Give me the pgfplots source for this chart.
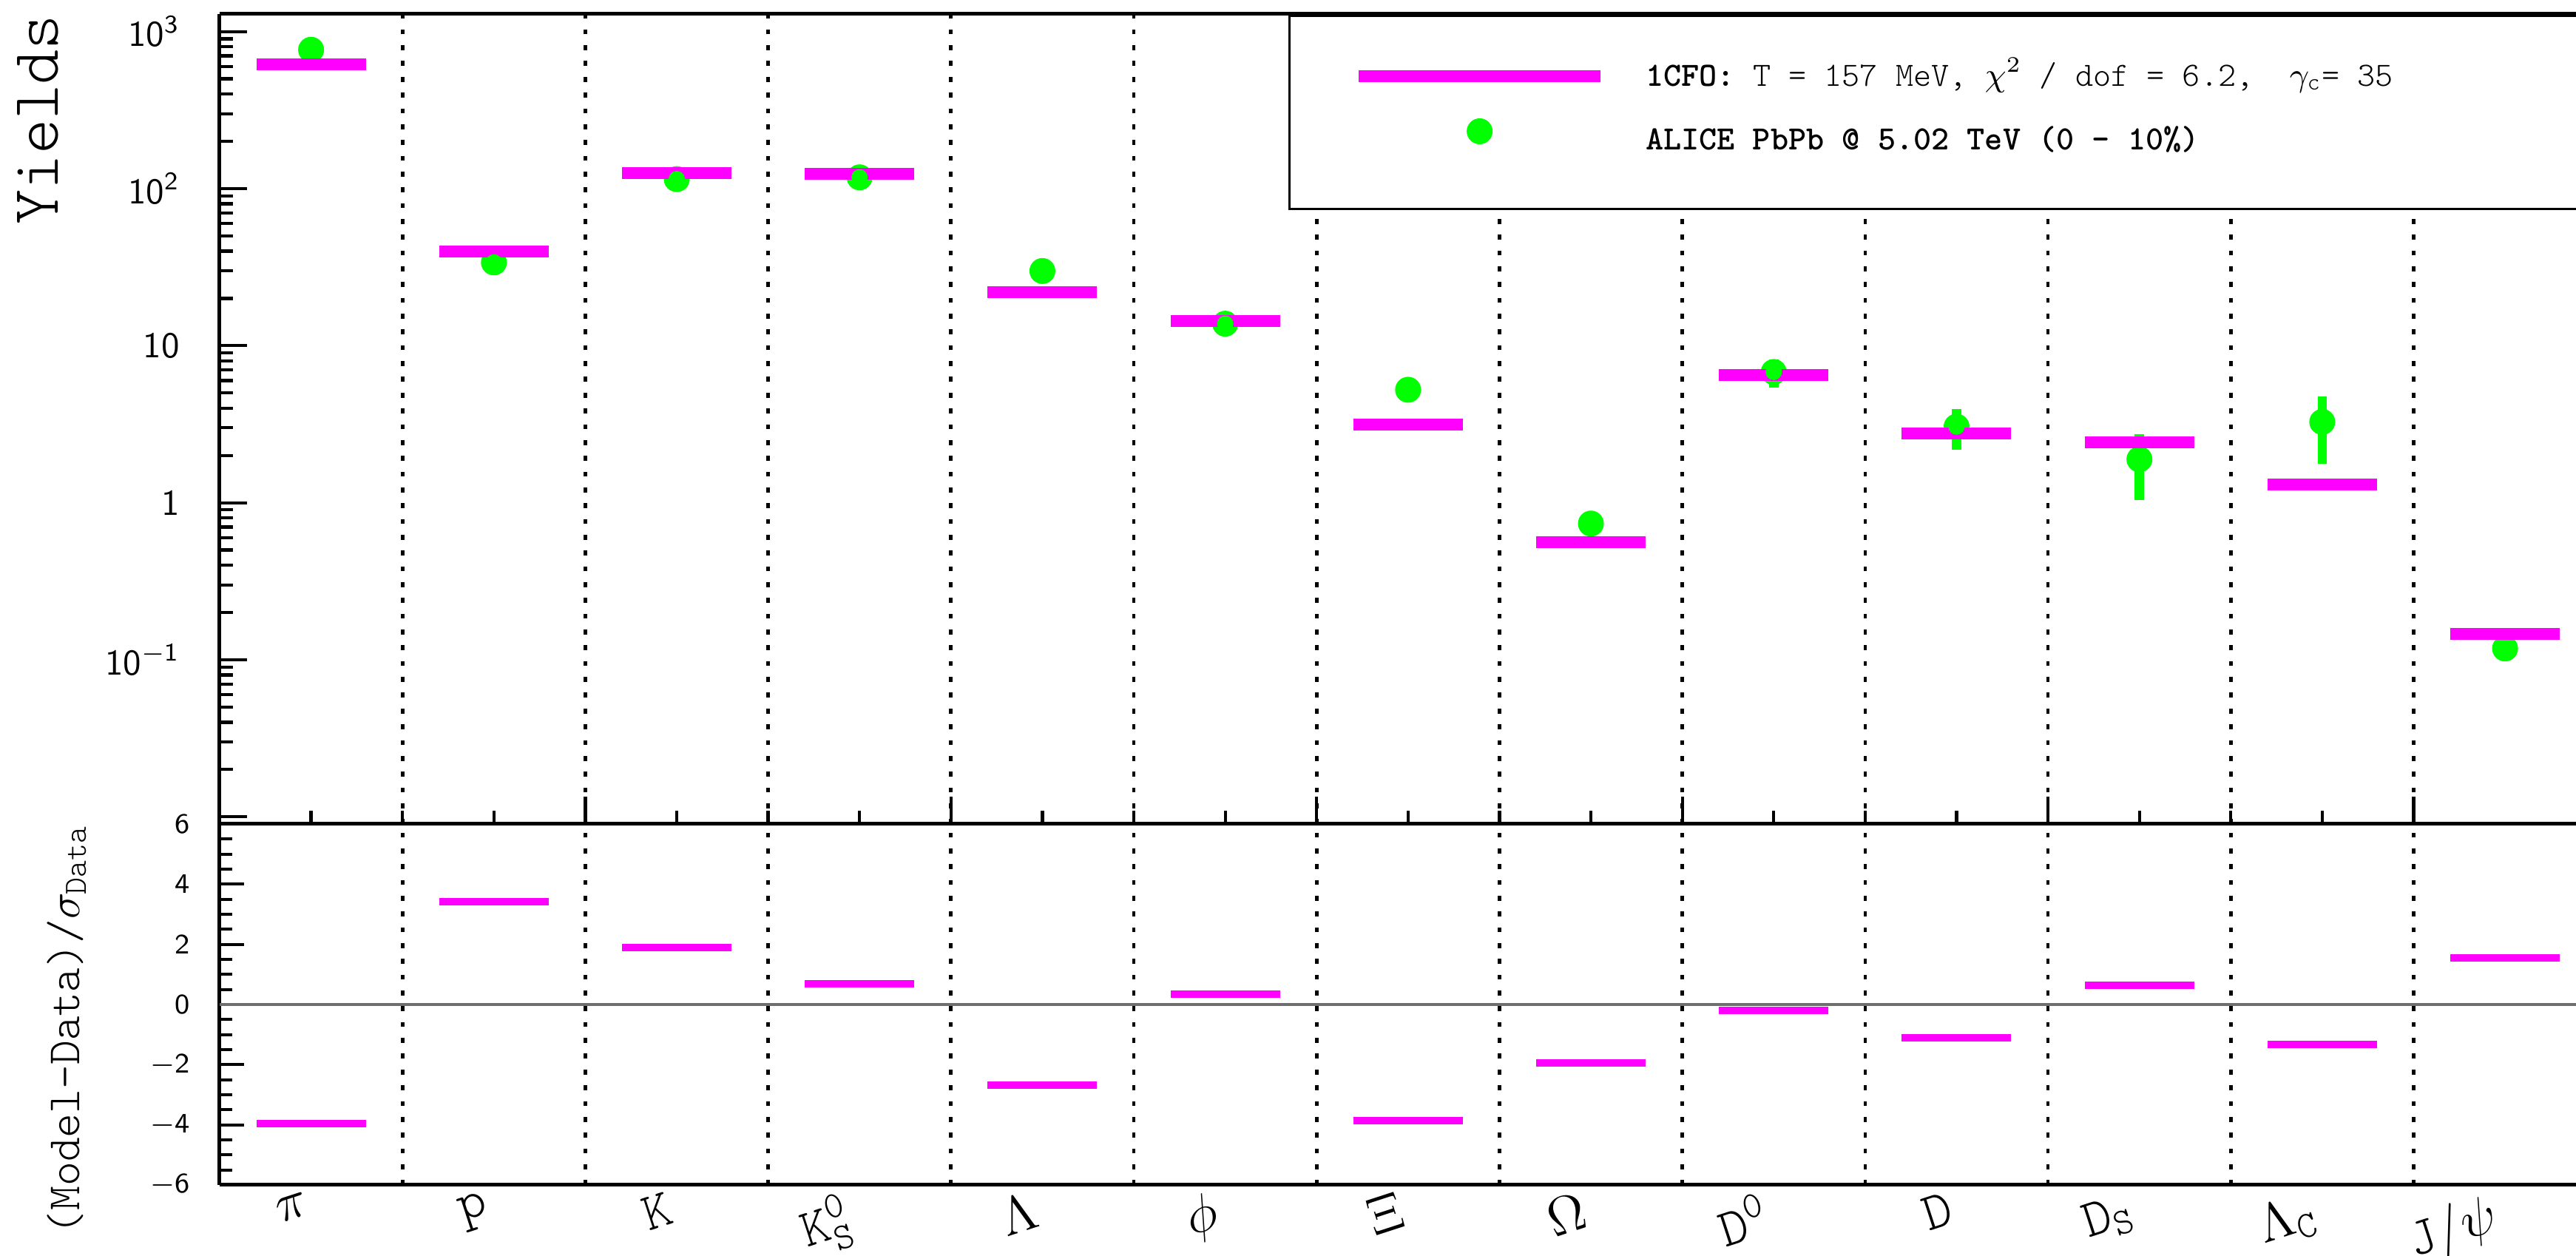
\documentclass[border=0pt]{standalone}
\usepackage{fontspec}
\setmonofont{lmmonolt10-regular.otf}[BoldFont=lmmonolt10-bold.otf]
\usepackage{pgfplots}
\usepackage{pgfplotstable}
\pgfplotsset{compat=1.18}

\definecolor{modelmag}{RGB}{255,0,255}
\definecolor{datagreen}{RGB}{0,255,0}
\definecolor{zerogray}{RGB}{110,110,110}

% tilted particle labels
\newcommand{\pl}[1]{\rotatebox{18}{#1}}

% x = bin centre, model = 1CFO yield, data = ALICE yield, err = data uncertainty,
% resid = (Model-Data)/sigma
\pgfplotstableread{
x     model  data   err   resid
0.5   617    766    0     -3.96
1.5   39.8   33.9   0      3.43
2.5   126    115    0      1.89
3.5   124    118    0      0.68
4.5   21.8   29.9   0     -2.67
5.5   14.3   13.8   0      0.35
6.5   3.15   5.24   0     -3.87
7.5   0.560  0.737  0     -1.95
8.5   6.53   6.80   1.40  -0.19
9.5   2.77   3.05   0.88  -1.11
10.5  2.43   1.89   0.85   0.63
11.5  1.30   3.27   1.50  -1.32
12.5  0.146  0.118  0      1.54
}\yieldtable

\tikzset{divider/.style={black, line width=0.94pt, dash pattern=on 1.34pt off 2.93pt}}

\begin{document}
\begin{tikzpicture}

% ---------------- lower panel: residuals ----------------
\begin{axis}[
  name=lower, at={(0pt,0pt)}, anchor=south west,
  width=637.2pt, height=97.6pt, scale only axis,
  xmin=0, xmax=12.888, ymin=-6, ymax=6,
  axis y line*=left,
  axis line style={line width=1pt},
  every tick/.style={black, line width=0.85pt},
  major tick length=6.6pt, minor tick length=3.4pt,
  ytick={-6,-4,...,6}, minor y tick num=3, ytick pos=left,
  yticklabels={$\mathsf{-6}$,$\mathsf{-4}$,$\mathsf{-2}$,$\mathsf{0}$,$\mathsf{2}$,$\mathsf{4}$,$\mathsf{6}$},
  yticklabel style={font=\fontsize{7.6}{8}\selectfont, inner sep=0pt, anchor=east, xshift=-7.8pt},
  xtick={0.5,1.5,...,12.5}, xtick pos=left,
  xtick style={draw=none},
  xticklabels={\pl{$\pi$}, \pl{$\mathtt{p}$}, \pl{$\mathtt{K}$}, \pl{$\mathtt{K}^{\mathtt{0}}_{\mathtt{S}}$}, \pl{$\Lambda$}, \pl{$\phi$}, \pl{$\Xi$}, \pl{$\Omega$}, \pl{$\mathtt{D}^{\mathtt{0}}$}, \pl{$\mathtt{D}$}, \pl{$\mathtt{D}_{\mathtt{S}}$}, \pl{$\Lambda_{\mathtt{C}}$}, \pl{$\mathtt{J/}\psi$}},
  xticklabel style={font=\fontsize{14.5}{14.5}\selectfont, anchor=north east, inner sep=0pt, yshift=-1.5pt},
  extra x ticks={1,2,...,12}, extra x tick labels={},
  extra x tick style={grid=major, major grid style={divider}, xtick style={draw=none}},
]
\draw[zerogray, line width=0.8pt] (axis cs:0,0) -- (axis cs:12.888,0);
\addplot[only marks, mark=-, mark size=14.8pt, mark options={draw=modelmag, line width=2pt}]
  table[x=x, y=resid] {\yieldtable};
\end{axis}

% ---------------- upper panel: yields ----------------
\begin{axis}[
  name=upper, at={(0pt,97.6pt)}, anchor=south west,
  width=637.2pt, height=219pt, scale only axis,
  xmin=0, xmax=12.888, ymode=log, ymin=0.009, ymax=1293,
  axis y line*=left,
  axis line style={line width=1pt},
  every tick/.style={black, line width=0.85pt},
  major tick length=7.4pt, minor tick length=3.6pt,
  xtick={0,2,...,12}, minor x tick num=3, xticklabels={}, xtick pos=left,
  ytick={0.01,0.1,1,10,100,1000}, ytick pos=left,
  yticklabels={{}, $\mathsf{10^{-1}}$, $\mathsf{1}$, $\mathsf{10}$, $\mathsf{10^{2}}$, $\mathsf{10^{3}}$},
  yticklabel style={font=\fontsize{9.8}{10}\selectfont, inner sep=0pt, anchor=east, xshift=-10.6pt},
  extra x ticks={1,2,...,12}, extra x tick labels={},
  extra x tick style={grid=major, major grid style={divider}, xtick style={draw=none}},
  legend cell align=left,
  legend style={at={(rel axis cs:0.4539,1)}, anchor=north west,
    xshift=17pt, yshift=-12.4pt, draw=none, fill=none, inner sep=0pt,
    row sep=6.4pt,
    font=\ttfamily\fontsize{9.2}{11}\selectfont,
    nodes={inner sep=0pt, text height=7pt, text depth=2.2pt},
    /tikz/every odd column/.append style={column sep=10.6pt}},
]
% legend frame
\draw[black, line width=0.6pt, fill=white] (rel axis cs:0.4539,0.7592) rectangle (rel axis cs:1.2,0.998);

\addlegendimage{legend image code/.code={\draw[modelmag, line width=3.2pt] (0pt,0.4pt) -- (65.4pt,0.4pt);}}
\addlegendentry{\textbf{1CFO:} T = 157 MeV, $\chi^{2}$ / dof = 6.2,\ \ $\gamma_{\mathtt{c}}$= 35}
\addlegendimage{legend image code/.code={\path[draw=none, fill=none] (0pt,0pt) rectangle (65.4pt,4pt); \fill[datagreen] (32.7pt,2.6pt) circle[radius=3.3pt];}}
\addlegendentry{\textbf{ALICE PbPb @ 5.02 TeV (0 - 10\%)}}

% data points
\addplot[forget plot, datagreen, only marks, mark=*, mark size=3.3pt,
  mark options={draw=none, fill=datagreen}]
  table[x=x, y=data] {\yieldtable};
% model yields
\addplot[forget plot, modelmag, only marks, mark=-, mark size=14.8pt,
  mark options={draw=modelmag, line width=3.2pt}]
  table[x=x, y=model] {\yieldtable};
% data uncertainties
\addplot[forget plot, datagreen, draw=datagreen, mark=none, only marks,
  error bars/.cd, y dir=both, y explicit, error mark=none,
  error bar style={draw=datagreen, line width=2.5pt}]
  table[x=x, y=data, y error=err] {\yieldtable};
\end{axis}

% axis titles
\node[font=\ttfamily\fontsize{18}{18}\selectfont, rotate=90, anchor=east, inner sep=0pt]
  at ([xshift=-49.1pt]upper.north west) {Yields};
\node[font=\ttfamily\fontsize{12.5}{12.5}\selectfont, rotate=90, anchor=east, inner sep=0pt]
  at ([xshift=-41.4pt]lower.north west) {(Model-Data)/$\sigma_{\mathtt{Data}}$};

\pgfresetboundingbox
\path[use as bounding box] (-59.4pt,-19.2pt) rectangle (637.2pt,320.4pt);
\end{tikzpicture}
\end{document}
